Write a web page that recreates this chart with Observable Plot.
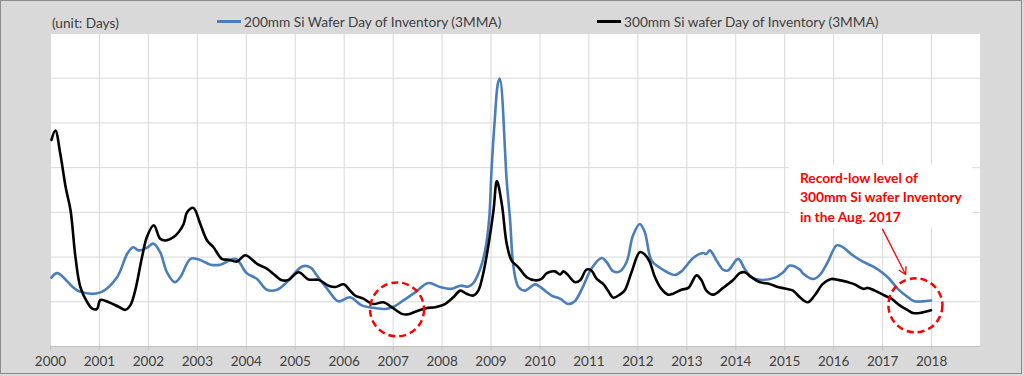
<!DOCTYPE html>
<html><head><meta charset="utf-8">
<script src="https://cdn.jsdelivr.net/npm/d3@7"></script>
<script src="https://cdn.jsdelivr.net/npm/@observablehq/plot@0.6"></script>
<style>
body{margin:0;background:#fff;font-family:Lato,"Open Sans",sans-serif;}
#wrap{position:relative;width:1024px;height:376px;background:#d9d9d9;overflow:hidden;}
#border{position:absolute;left:0;top:0;width:1020px;height:372px;border:1px solid #8c8c8c;}
.lab{position:absolute;font-size:13.7px;color:#404040;white-space:nowrap;line-height:16px;}
.sw{position:absolute;height:3px;width:24px;}
#chart{position:absolute;left:0;top:0;}
</style></head>
<body>
<div id="wrap">
  <div id="chart"></div>
  <div id="border"></div>
  <div class="lab" style="left:52px;top:15px">(unit: Days)</div>
  <div class="sw" style="left:217px;top:20px;background:#4a7ebb"></div>
  <div class="lab" style="left:244px;top:14px">200mm Si Wafer Day of Inventory (3MMA)</div>
  <div class="sw" style="left:597px;top:20px;background:#000"></div>
  <div class="lab" style="left:624px;top:14px">300mm Si wafer Day of Inventory (3MMA)</div>
</div>
<script>
// time (fractional year), value (days)
const wafer200 = [
[2000.02,15.4],[2000.14,16.4],[2000.57,12.4],[2001.02,12.1],[2001.36,15.5],[2001.57,20.8],[2001.69,22.2],
[2001.80,21.5],[2001.97,22.1],[2002.10,23.0],[2002.24,21.1],[2002.38,16.6],[2002.54,14.4],[2002.65,15.5],
[2002.86,19.6],[2003.02,19.5],[2003.27,18.3],[2003.47,18.3],[2003.78,19.6],[2004.01,16.4],[2004.22,15.1],
[2004.42,12.7],[2004.63,12.7],[2004.83,14.4],[2005.14,17.9],[2005.31,17.7],[2005.44,15.9],[2005.68,12.5],
[2005.88,10.1],[2006.12,11.0],[2006.36,9.2],[2006.63,8.6],[2006.84,8.4],[2007.01,8.9],[2007.21,10.3],
[2007.45,12.1],[2007.72,14.2],[2007.96,13.3],[2008.20,12.9],[2008.37,13.6],[2008.54,13.4],[2008.64,14.2],
[2008.78,17.4],[2008.88,21.5],[2008.96,28.2],[2009.01,39.4],[2009.08,51.3],[2009.14,58.8],[2009.18,59.9],
[2009.32,37.1],[2009.39,28.2],[2009.46,17.7],[2009.56,13.3],[2009.69,12.5],[2009.90,13.9],[2010.03,13.1],
[2010.24,11.4],[2010.41,10.7],[2010.58,9.5],[2010.71,10.1],[2010.88,13.4],[2011.05,17.4],[2011.26,19.8],
[2011.36,18.9],[2011.50,16.8],[2011.63,16.8],[2011.77,18.9],[2011.90,24.8],[2012.04,27.4],[2012.14,25.6],
[2012.28,19.2],[2012.45,17.6],[2012.62,16.5],[2012.76,16.0],[2012.89,16.8],[2013.13,19.8],[2013.33,20.9],
[2013.40,20.7],[2013.47,21.5],[2013.61,19.2],[2013.74,17.2],[2013.84,17.0],[2014.05,19.6],[2014.18,17.4],
[2014.32,15.5],[2014.49,14.9],[2014.80,15.4],[2014.97,16.6],[2015.10,18.1],[2015.31,17.2],[2015.37,16.4],
[2015.58,15.1],[2015.71,15.9],[2015.88,18.9],[2016.06,22.6],[2016.16,22.4],[2016.39,20.4],[2016.56,19.2],
[2016.80,17.9],[2017.01,16.4],[2017.14,15.1],[2017.31,12.9],[2017.52,11.0],[2017.65,10.1],[2017.82,10.1],
[2017.99,10.3]
];
const wafer300 = [
[2000.02,46.2],[2000.10,48.3],[2000.20,43.1],[2000.31,35.6],[2000.41,30.4],[2000.51,20.0],[2000.61,13.3],
[2000.75,9.9],[2000.86,8.4],[2000.95,8.4],[2001.02,10.4],[2001.19,9.9],[2001.39,8.9],[2001.53,8.2],
[2001.63,9.2],[2001.73,12.5],[2001.87,20.0],[2001.97,24.5],[2002.11,27.1],[2002.24,24.1],[2002.35,23.7],
[2002.52,24.5],[2002.62,25.6],[2002.72,27.4],[2002.79,30.0],[2002.92,31.0],[2003.06,27.4],[2003.20,23.7],
[2003.33,22.2],[2003.50,19.6],[2003.64,19.4],[2003.81,19.0],[2003.98,20.4],[2004.22,18.5],[2004.42,17.4],
[2004.59,15.9],[2004.73,14.8],[2004.86,14.9],[2005.07,16.6],[2005.27,15.0],[2005.48,14.9],[2005.68,13.6],
[2005.82,13.3],[2005.99,13.9],[2006.12,12.5],[2006.22,11.4],[2006.39,10.7],[2006.59,9.5],[2006.80,9.9],
[2006.97,8.8],[2007.18,7.3],[2007.31,7.2],[2007.48,7.9],[2007.69,8.6],[2007.86,8.8],[2008.06,9.5],
[2008.23,11.0],[2008.37,12.5],[2008.50,11.8],[2008.64,11.4],[2008.74,12.5],[2008.84,16.3],[2008.94,22.2],
[2009.05,30.4],[2009.12,37.0],[2009.22,31.9],[2009.32,23.0],[2009.42,19.2],[2009.56,17.7],[2009.73,15.5],
[2009.90,14.8],[2010.03,15.1],[2010.14,16.4],[2010.31,16.8],[2010.41,16.1],[2010.48,16.8],[2010.58,15.9],
[2010.71,14.4],[2010.82,14.8],[2010.95,17.2],[2011.05,17.0],[2011.16,15.1],[2011.29,14.0],[2011.39,12.5],
[2011.50,10.9],[2011.63,11.6],[2011.73,12.5],[2011.87,16.6],[2012.04,21.1],[2012.14,20.6],[2012.24,19.0],
[2012.35,15.5],[2012.48,12.9],[2012.62,11.6],[2012.72,11.8],[2012.89,12.7],[2013.03,13.1],[2013.20,15.9],
[2013.30,14.8],[2013.40,12.5],[2013.54,11.6],[2013.74,13.1],[2013.94,14.8],[2014.08,16.4],[2014.18,16.6],
[2014.32,15.5],[2014.49,14.4],[2014.69,14.0],[2014.86,13.3],[2015.03,12.9],[2015.17,12.5],[2015.31,11.0],
[2015.47,9.9],[2015.61,11.4],[2015.78,14.0],[2015.95,15.1],[2016.09,14.9],[2016.29,14.4],[2016.43,13.9],
[2016.60,12.9],[2016.70,13.1],[2016.84,12.5],[2017.04,11.4],[2017.18,10.7],[2017.35,9.2],[2017.52,8.1],
[2017.62,7.5],[2017.76,7.5],[2017.99,8.1]
];
const yearTicks = d3.range(2000, 2019);
const gridYears = d3.range(2000, 2020);
const gridValues = d3.range(0, 80, 10);
const circles = [[2007.08, 8.3], [2017.67, 9.2]];
const noteText = "Record-low level of\n300mm Si wafer Inventory\nin the Aug. 2017";
const noteAt = [2015.31, 39.6];
const noteBox = [[2015.10, 2018.84, 26.4, 40.5]];
const arrow = [[2017.0, 26.2, 2017.47, 16.1]];

const chart = Plot.plot({
  width: 1024, height: 376,
  marginLeft: 50, marginRight: 44, marginTop: 33, marginBottom: 30,
  style: {background: "transparent", fontFamily: "Lato, 'Open Sans', sans-serif"},
  x: {domain: [2000, 2019]},
  y: {domain: [0, 70]},
  marks: [
    Plot.frame({fill: "white", stroke: "#d9d9d9"}),
    Plot.gridX(gridYears, {stroke: "#d9d9d9", strokeOpacity: 1}),
    Plot.gridY(gridValues, {stroke: "#d9d9d9", strokeOpacity: 1}),
    Plot.ruleY([0], {stroke: "#bfbfbf"}),
    Plot.axisX(yearTicks, {tickFormat: d => String(d), tickSize: 4, tickPadding: 6, fontSize: 13.5, fill: "#404040", stroke: "#bfbfbf", label: null}),
    Plot.axisY(gridValues, {tickSize: 0, tickFormat: () => "", label: null}),
    Plot.rect(noteBox, {x1: d => d[0], x2: d => d[1], y1: d => d[2], y2: d => d[3], fill: "white"}),
    Plot.line(wafer200, {x: d => d[0], y: d => d[1], stroke: "#4a7ebb", strokeWidth: 2.6, curve: "catmull-rom"}),
    Plot.line(wafer300, {x: d => d[0], y: d => d[1], stroke: "#000", strokeWidth: 2.6, curve: "catmull-rom"}),
    Plot.dot(circles, {x: d => d[0], y: d => d[1], r: 27, stroke: "#ff0000", strokeWidth: 2.5, strokeDasharray: "7,4", fill: "none"}),
    Plot.arrow(arrow, {x1: d => d[0], y1: d => d[1], x2: d => d[2], y2: d => d[3], stroke: "#ff0000", strokeWidth: 1.3, headLength: 9}),
    Plot.text([noteText], {x: noteAt[0], y: noteAt[1], text: d => d, textAnchor: "start", lineAnchor: "top", fill: "#ff0000", fontWeight: "bold", fontSize: 13.8, lineHeight: 1.4})
  ]
});
document.getElementById("chart").appendChild(chart);
</script>
</body></html>
